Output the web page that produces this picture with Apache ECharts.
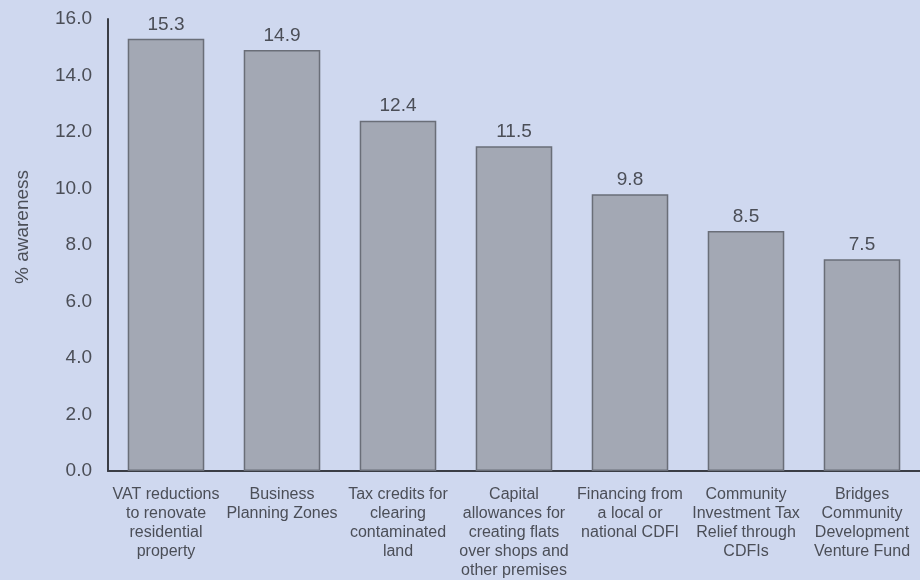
<!DOCTYPE html>
<html>
<head>
<meta charset="utf-8">
<script src="https://cdn.jsdelivr.net/npm/echarts@6/dist/echarts.min.js"></script>
<style>
html,body{margin:0;padding:0;background:#cfd8ef;}
#chart{width:920px;height:580px;}
</style>
</head>
<body>
<div id="chart"></div>
<script>
const categories = [
  "VAT reductions\nto renovate\nresidential\nproperty",
  "Business\nPlanning Zones",
  "Tax credits for\nclearing\ncontaminated\nland",
  "Capital\nallowances for\ncreating flats\nover shops and\nother premises",
  "Financing from\na local or\nnational CDFI",
  "Community\nInvestment Tax\nRelief through\nCDFIs",
  "Bridges\nCommunity\nDevelopment\nVenture Fund"
];
const awareness = [15.3, 14.9, 12.4, 11.5, 9.8, 8.5, 7.5];
const yAxisTitle = "% awareness";

const FONT = 'Liberation Sans, Arial, sans-serif';
const TXT = '#4b4e57';
const chart = echarts.init(document.getElementById('chart'));
chart.setOption({
  backgroundColor: '#cfd8ef',
  animation: false,
  textStyle: { fontFamily: FONT },
  grid: { left: 108, right: 0, top: 19, bottom: 102 },
  xAxis: {
    type: 'category',
    data: categories,
    axisLine: { lineStyle: { color: '#3a3d45', width: 2 } },
    axisTick: { show: false },
    axisLabel: {
      color: TXT, fontSize: 16, lineHeight: 19, margin: 14,
      interval: 0, fontFamily: FONT
    }
  },
  yAxis: {
    type: 'value',
    min: 0, max: 16, interval: 2,
    name: yAxisTitle,
    nameLocation: 'middle',
    nameGap: 76,
    nameRotate: 90,
    nameTextStyle: { color: TXT, fontSize: 19, fontFamily: FONT, padding: [0, 0, 0, 36] },
    axisLine: { show: true, lineStyle: { color: '#3a3d45', width: 2 } },
    axisTick: { show: false },
    splitLine: { show: false },
    axisLabel: {
      color: TXT, fontSize: 19, margin: 16,
      formatter: v => v.toFixed(1),
      fontFamily: FONT
    }
  },
  series: [{
    type: 'bar',
    data: awareness,
    barWidth: '66%',
    itemStyle: { color: '#a3a8b4', borderColor: '#6a6e78', borderWidth: 1.5 },
    label: {
      show: true, position: 'top', distance: 5,
      color: TXT, fontSize: 19,
      formatter: p => p.value.toFixed(1),
      fontFamily: FONT
    }
  }]
});
</script>
</body>
</html>
